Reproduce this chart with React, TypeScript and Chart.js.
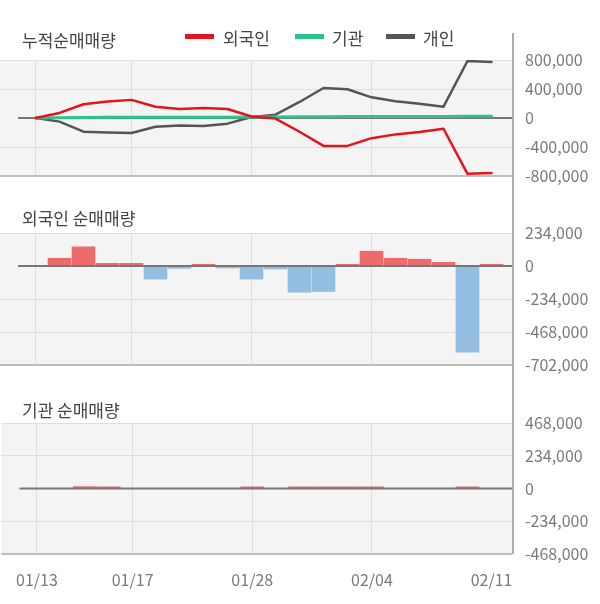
import React, { useEffect, useRef } from 'react';
import { Chart, registerables } from 'chart.js';

Chart.register(...registerables);

// ---------- data ----------
const dates = [
  '01/13', '01/14', '01/15', '01/16', '01/17', '01/20', '01/21', '01/22', '01/23', '01/28',
  '01/29', '01/30', '01/31', '02/03', '02/04', '02/05', '02/06', '02/07', '02/10', '02/11',
];
const shownDateIdx = [0, 4, 9, 14, 19];

const foreignCum = [0, 70000, 190000, 228000, 250000, 155000, 125000, 138000, 124000, 20000,
  -8000, -190000, -385000, -385000, -278000, -226000, -192000, -148000, -770000, -758000];
const instCum = [0, 2000, 8000, 12000, 12000, 12000, 12000, 12000, 12000, 14000,
  14000, 16000, 18000, 20000, 22000, 22000, 22000, 22000, 24000, 24000];
const indivCum = [0, -50000, -188000, -200000, -207000, -120000, -105000, -110000, -78000, 14000,
  46000, 221000, 414000, 396000, 285000, 230000, 198000, 156000, 786000, 772000];

const foreignDaily = [0, 55000, 136000, 19000, 19000, -93000, -17000, 12000, -14000, -93000,
  -21000, -186000, -181000, 12000, 105000, 55000, 48000, 26000, -611000, 12000];
const instDaily = [0, 0, 13000, 12000, 0, 0, 0, 0, 0, 12000,
  0, 12000, 12000, 12000, 12000, 0, 0, 0, 12000, 0];

const cumTicks = [-800000, -400000, 0, 400000, 800000];
const foreignTicks = [-702000, -468000, -234000, 0, 234000];
const instTicks = [-468000, -234000, 0, 234000, 468000];

const seriesNames = ['외국인', '기관', '개인'];
const panelTitles = ['누적순매매량', '외국인 순매매량', '기관 순매매량'];

// ---------- style ----------
const FONT = "'Noto Sans CJK KR', 'Noto Sans', sans-serif";
const RED = '#e5141c';
const GREEN = '#2cc48c';
const GRAY = '#555555';
const BAR_UP = '#ed6b6d';
const BAR_DOWN = '#93bee0';
const PLOT_BG = '#f4f4f4';
const GRID = '#dedede';
const TICK_COLOR = '#7a7a7a';
const X_MIN = -1.479;
const X_MAX = 19.854;
const PAD = 24;

Chart.defaults.font.family = FONT;

const idx = dates.map((_, i) => i);
const pts = (arr: number[]) => arr.map((v, i) => ({ x: idx[i], y: v }));

const panelPlugin = (zeroOnTop: boolean) => {
  const drawZero = (chart: any) => {
    const { ctx, chartArea, scales } = chart;
    const y = scales.y.getPixelForValue(0);
    ctx.save();
    ctx.strokeStyle = '#777777';
    ctx.lineWidth = 2;
    ctx.beginPath();
    ctx.moveTo(chartArea.left + 18, y);
    ctx.lineTo(chartArea.right, y);
    ctx.stroke();
    ctx.restore();
  };
  return {
    id: 'panelDeco',
    beforeDraw(chart: any) {
      const { ctx, chartArea } = chart;
      ctx.save();
      ctx.fillStyle = PLOT_BG;
      ctx.fillRect(chartArea.left, chartArea.top, chartArea.right - chartArea.left, chartArea.bottom - chartArea.top);
      ctx.restore();
    },
    beforeDatasetsDraw(chart: any) {
      if (!zeroOnTop) drawZero(chart);
    },
    afterDatasetsDraw(chart: any) {
      if (zeroOnTop) drawZero(chart);
      const { ctx, chartArea } = chart;
      ctx.save();
      ctx.strokeStyle = '#bdbdbd';
      ctx.lineWidth = 2;
      ctx.beginPath();
      ctx.moveTo(chartArea.left, chartArea.bottom);
      ctx.lineTo(chartArea.right, chartArea.bottom);
      ctx.stroke();
      ctx.restore();
    },
  };
};

const xScale = (showLabels: boolean) => ({
  type: 'linear',
  min: X_MIN,
  max: X_MAX,
  offset: false,
  afterBuildTicks: (axis: any) => {
    axis.ticks = shownDateIdx.map((v) => ({ value: v }));
  },
  afterFit: (axis: any) => {
    axis.height = showLabels ? 35 : 0;
  },
  grid: {
    offset: false,
    drawTicks: false,
    lineWidth: 1,
    color: (c: any) => (c.tick && c.tick.value === shownDateIdx[shownDateIdx.length - 1] ? 'rgba(0,0,0,0)' : GRID),
  },
  border: { display: false },
  ticks: {
    display: showLabels,
    autoSkip: false,
    maxRotation: 0,
    minRotation: 0,
    padding: 16,
    color: TICK_COLOR,
    font: { size: 16, family: FONT },
    callback: (v: any) => dates[v] ?? '',
  },
});

const yScale = (ticks: number[]) => ({
  type: 'linear',
  position: 'right',
  min: ticks[0],
  max: ticks[ticks.length - 1],
  afterBuildTicks: (axis: any) => {
    axis.ticks = ticks.map((v) => ({ value: v }));
  },
  afterFit: (axis: any) => {
    axis.width = 88;
  },
  grid: {
    drawTicks: false,
    lineWidth: 1,
    color: (c: any) => (c.tick && c.tick.value === 0 ? 'rgba(0,0,0,0)' : GRID),
  },
  border: { display: false },
  ticks: {
    padding: 13,
    color: TICK_COLOR,
    font: { size: 16, family: FONT },
    callback: (v: any) => Number(v).toLocaleString('en-US'),
  },
});

const baseOptions = (ticks: number[], showX: boolean, padBottom: number) => ({
  responsive: false,
  animation: false,
  devicePixelRatio: 1,
  events: [],
  layout: { padding: { top: PAD, bottom: padBottom, left: 0, right: 0 } },
  plugins: { legend: { display: false }, tooltip: { enabled: false } },
  scales: { x: xScale(showX), y: yScale(ticks) },
});

const lineDs = (label: string, arr: number[], color: string, width: number) => ({
  type: 'line',
  label,
  data: pts(arr),
  borderColor: color,
  backgroundColor: color,
  borderWidth: width,
  pointRadius: 0,
  tension: 0,
  borderJoinStyle: 'round',
  borderCapStyle: 'round',
  fill: false,
});

const barDs = (label: string, arr: number[]) => ({
  type: 'bar',
  label,
  data: pts(arr),
  backgroundColor: arr.map((v) => (v >= 0 ? BAR_UP : BAR_DOWN)),
  borderWidth: 0,
  barThickness: 23,
});

export default function App() {
  const c1 = useRef<HTMLCanvasElement>(null);
  const c2 = useRef<HTMLCanvasElement>(null);
  const c3 = useRef<HTMLCanvasElement>(null);

  useEffect(() => {
    const charts: Chart[] = [];
    charts.push(
      new Chart(c1.current as HTMLCanvasElement, {
        type: 'line',
        data: {
          datasets: [
            lineDs(seriesNames[0], foreignCum, RED, 2.5),
            lineDs(seriesNames[1], instCum, GREEN, 3),
            lineDs(seriesNames[2], indivCum, GRAY, 2.5),
          ] as any,
        },
        options: baseOptions(cumTicks, false, PAD) as any,
        plugins: [panelPlugin(false)],
      }),
    );
    charts.push(
      new Chart(c2.current as HTMLCanvasElement, {
        type: 'bar',
        data: { datasets: [barDs(seriesNames[0], foreignDaily)] as any },
        options: baseOptions(foreignTicks, false, PAD) as any,
        plugins: [panelPlugin(true)],
      }),
    );
    charts.push(
      new Chart(c3.current as HTMLCanvasElement, {
        type: 'bar',
        data: { datasets: [barDs(seriesNames[1], instDaily)] as any },
        options: baseOptions(instTicks, true, 15) as any,
        plugins: [panelPlugin(true)],
      }),
    );
    return () => charts.forEach((c) => c.destroy());
  }, []);

  const titleStyle = (top: number): React.CSSProperties => ({
    position: 'absolute',
    left: 22,
    top,
    fontSize: 17,
    lineHeight: '20px',
    color: '#444',
    whiteSpace: 'nowrap',
  });
  const legendItem = (swLeft: number, textLeft: number, color: string, text: string) => (
    <React.Fragment key={text}>
      <div style={{ position: 'absolute', left: swLeft, top: 34, width: 29, height: 5, background: color }} />
      <div style={{ position: 'absolute', left: textLeft, top: 28, fontSize: 17, lineHeight: '20px', color: '#444', whiteSpace: 'nowrap' }}>{text}</div>
    </React.Fragment>
  );

  return (
    <div style={{ position: 'absolute', left: 0, top: 0, width: 600, height: 604, background: '#fff', fontFamily: FONT, overflow: 'hidden' }}>
      <canvas ref={c1} width={600} height={164} style={{ position: 'absolute', left: 0, top: 36, display: 'block' }} />
      <canvas ref={c2} width={600} height={180} style={{ position: 'absolute', left: 0, top: 209, display: 'block' }} />
      <canvas ref={c3} width={600} height={205} style={{ position: 'absolute', left: 0, top: 399, display: 'block' }} />
      <div style={{ position: 'absolute', left: 512, top: 33, width: 2, height: 521, background: '#ababab' }} />
      <div style={titleStyle(30)}>{panelTitles[0]}</div>
      <div style={titleStyle(208)}>{panelTitles[1]}</div>
      <div style={titleStyle(400)}>{panelTitles[2]}</div>
      {legendItem(185, 223, RED, seriesNames[0])}
      {legendItem(295, 332, GREEN, seriesNames[1])}
      {legendItem(386, 423, GRAY, seriesNames[2])}
    </div>
  );
}
